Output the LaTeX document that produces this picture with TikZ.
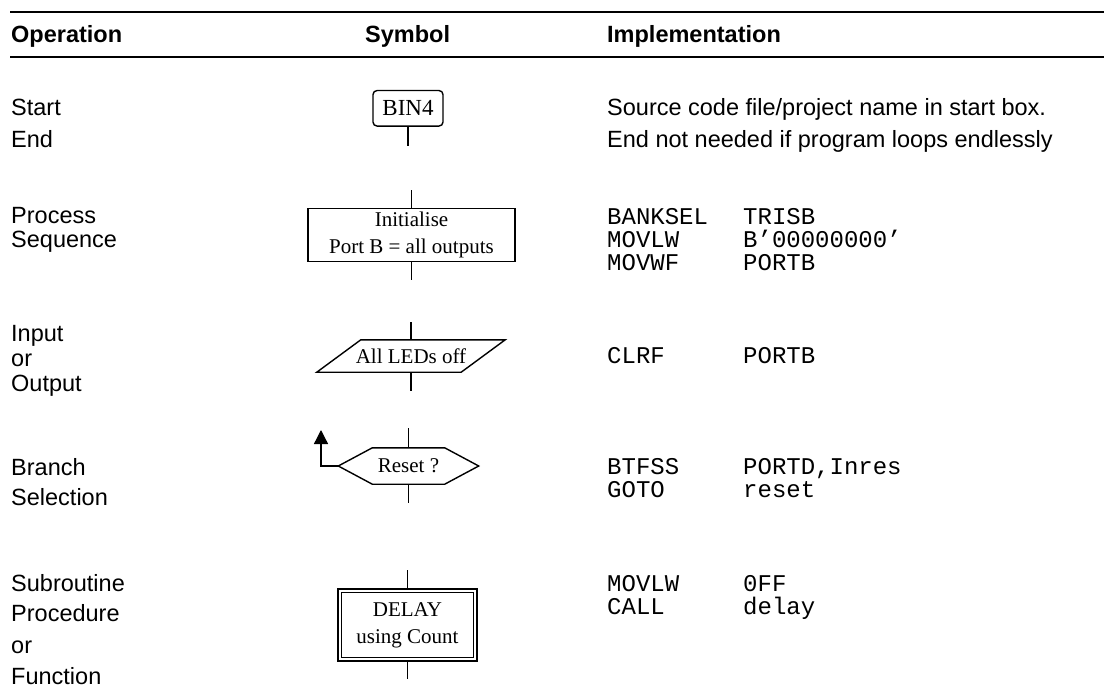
\documentclass[tikz,border=0pt]{standalone}
\usepackage{fontspec}
\setmainfont{Liberation Serif}
\setsansfont{Liberation Sans}
\setmonofont{Liberation Mono}
\usetikzlibrary{arrows.meta,calc}
\begin{document}
\begin{tikzpicture}[x=1pt,y=-1pt,
  op/.style={anchor=base west, inner sep=0pt, font=\fontsize{23.5}{28}\sffamily},
  hd/.style={anchor=base west, inner sep=0pt, font=\fontsize{23.5}{28}\sffamily\bfseries},
  code/.style={anchor=base west, inner sep=0pt, font=\fontsize{24}{28}\ttfamily},
  symtext/.style={inner sep=0pt, align=center, font=\fontsize{21}{27}\rmfamily},
  rule/.style={line width=2.5pt},
  stem/.style={line width=1.3pt},
  outline/.style={line width=1.4pt}]
\useasboundingbox (0,0) rectangle (1104,693);
% header
\draw[rule] (10,12) -- (1104,12);
\draw[rule] (10,57) -- (1104,57);
\node[hd] (hop) at (11,43) {Operation};
\node[hd] (hsym) at (365,43) {Symbol};
\node[hd] (himp) at (607,43) {Implementation};
% row 1
\node[op] (start) at (11,116) {Start};
\node[op] (endl) at (11,147) {End};
\node[symtext, draw, outline, rounded corners=4pt, minimum width=70pt, minimum height=35.5pt, font=\fontsize{23}{27}\rmfamily] (bin) at (408,108.3) {BIN4};
\coordinate (binend) at (408,146);
\draw[stem] (bin.south) -- (binend);
\node[op] (src1) at (607,116) {Source code file/project name in start box.};
\node[op] (src2) at (607,147) {End not needed if program loops endlessly};
% row 2
\node[op] (proc) at (11,223) {Process};
\node[op] (seq) at (11,247) {Sequence};
\node[symtext, draw, outline, minimum width=207pt, minimum height=53pt] (pbox) at (411.5,235) {Initialise\\Port B = all outputs};
\coordinate (ptop) at (411.5,190);
\coordinate (pbot) at (411.5,280);
\draw[stem] (ptop) -- (pbox.north);
\draw[stem] (pbox.south) -- (pbot);
\node[code] (c1a) at (607,224) {BANKSEL};
\node[code] (c1b) at (743,224) {TRISB};
\node[code] (c2a) at (607,247) {MOVLW};
\node[code] (c2b) at (743,247) {B’00000000’};
\node[code] (c3a) at (607,270) {MOVWF};
\node[code] (c3b) at (743,270) {PORTB};
% row 3
\node[op] (inp) at (11,341) {Input};
\node[op] (or1) at (11,366) {or};
\node[op] (outp) at (11,391) {Output};
\node[symtext, minimum width=188pt, minimum height=32pt] (io) at (411,356) {All LEDs off};
\draw[outline] ([xshift=44pt]io.north west) -- (io.north east) -- ([xshift=-44pt]io.south east) -- (io.south west) -- cycle;
\coordinate (itop) at (411,322);
\coordinate (ibot) at (411,391);
\draw[stem] (itop) -- (io.north);
\draw[stem] (io.south) -- (ibot);
\node[code] (c4a) at (607,363) {CLRF};
\node[code] (c4b) at (743,363) {PORTB};
% row 4
\node[op] (branch) at (11,475) {Branch};
\node[op] (sel) at (11,505) {Selection};
\node[symtext, minimum width=140pt, minimum height=36pt] (hex) at (408.5,466) {Reset ?};
\draw[outline] (hex.west) -- ([xshift=34pt]hex.north west) -- ([xshift=-34pt]hex.north east) -- (hex.east) -- ([xshift=-34pt]hex.south east) -- ([xshift=34pt]hex.south west) -- cycle;
\coordinate (htop) at (408.5,428);
\coordinate (hbot) at (408.5,503);
\draw[stem] (htop) -- (hex.north);
\draw[stem] (hex.south) -- (hbot);
\coordinate (bend) at (321,466);
\coordinate (atip) at (321,430);
\draw[stem, -{Triangle[length=14pt,width=14pt]}] (hex.west) -- (bend) -- (atip);
\node[code] (c5a) at (607,474) {BTFSS};
\node[code] (c5b) at (743,474) {PORTD,Inres};
\node[code] (c6a) at (607,497) {GOTO};
\node[code] (c6b) at (743,497) {reset};
% row 5
\node[op] (subr) at (11,591) {Subroutine};
\node[op] (procd) at (11,621) {Procedure};
\node[op] (or2) at (11,653) {or};
\node[op] (func) at (11,684) {Function};
\node[symtext, draw, line width=1.8pt, minimum width=139pt, minimum height=72pt] (sub) at (407.5,625) {DELAY\\using Count};
\draw[outline] ([xshift=4.5pt,yshift=-4.5pt]sub.north west) rectangle ([xshift=-4.5pt,yshift=4.5pt]sub.south east);
\coordinate (stop) at (407.5,570);
\coordinate (sbot) at (407.5,679);
\draw[stem] (stop) -- (sub.north);
\draw[stem] (sub.south) -- (sbot);
\node[code] (c7a) at (607,591) {MOVLW};
\node[code] (c7b) at (743,591) {0FF};
\node[code] (c8a) at (607,614) {CALL};
\node[code] (c8b) at (743,614) {delay};
\end{tikzpicture}
\end{document}
